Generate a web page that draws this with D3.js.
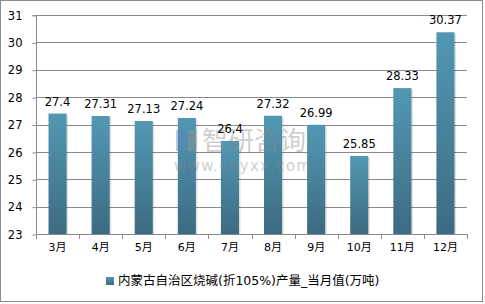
<!DOCTYPE html>
<html><head><meta charset="utf-8">
<script src="https://cdn.jsdelivr.net/npm/d3@7"></script>
<style>body{margin:0;background:#fff}svg{display:block}text{font-family:"DejaVu Sans","Noto Sans CJK SC",sans-serif}</style>
</head><body>
<script>
const categories = ["3月","4月","5月","6月","7月","8月","9月","10月","11月","12月"];
const values = [27.4,27.31,27.13,27.24,26.4,27.32,26.99,25.85,28.33,30.37];
const valueLabels = ["27.4","27.31","27.13","27.24","26.4","27.32","26.99","25.85","28.33","30.37"];
const yTicks = [23,24,25,26,27,28,29,30,31];
const seriesName = "内蒙古自治区烧碱(折105%)产量_当月值(万吨)";

(function(){
const W=485,H=304;
const svg=d3.select("body").append("svg").attr("width",W).attr("height",H);
svg.append("rect").attr("x",0.5).attr("y",0.5).attr("width",W-3).attr("height",H-3).attr("fill","#fff").attr("stroke","#8c8c8c");

const defs=svg.append("defs");
const g1=defs.append("linearGradient").attr("id","bg").attr("x1",0).attr("y1",0).attr("x2",0).attr("y2",1);
g1.append("stop").attr("offset","0%").attr("stop-color","#5298b3");
g1.append("stop").attr("offset","100%").attr("stop-color","#3c6b82");

const pl=36,pr=467,pt=15,pb=234;
const x=d3.scaleBand().domain(categories).range([pl,pr]).paddingInner(0.58).paddingOuter(0.29);
const xb=d3.scaleBand().domain(categories).range([pl,pr]);
const y=d3.scaleLinear().domain([23,31]).range([pb,pt]);

svg.append("g").selectAll("line").data(yTicks).join("line")
  .attr("x1",pl).attr("x2",pr).attr("y1",d=>Math.round(y(d))+0.5).attr("y2",d=>Math.round(y(d))+0.5)
  .attr("stroke","#8a8a8a").attr("stroke-width",1);

const ya=svg.append("g").attr("transform",`translate(${pl+0.5},0.5)`)
  .call(d3.axisLeft(y).tickValues(yTicks).tickSize(4).tickPadding(10).tickFormat(d3.format("d")));
ya.select(".domain").attr("stroke","#8a8a8a").attr("d",`M-4,${Math.round(y(31))}H0V${Math.round(y(23))}`);
ya.selectAll(".tick line").attr("stroke","#8a8a8a");
ya.selectAll(".tick text").attr("font-size",11.5).attr("fill","#000").attr("font-family","DejaVu Sans");

const bars=svg.append("g");
bars.selectAll("rect.sh").data(values).join("rect").attr("class","sh")
  .attr("x",(d,i)=>x(categories[i])+1.5).attr("y",d=>y(d)+1.5).attr("width",x.bandwidth()).attr("height",d=>pb-y(d)-1.5)
  .attr("fill","#000").attr("opacity",0.12);
bars.selectAll("rect.b").data(values).join("rect").attr("class","b")
  .attr("x",(d,i)=>x(categories[i])).attr("y",d=>y(d)).attr("width",x.bandwidth()).attr("height",d=>pb-y(d))
  .attr("fill","url(#bg)");

const xa=svg.append("g").attr("transform",`translate(0,${Math.round(pb)+0.5})`)
  .call(d3.axisBottom(xb).tickSize(0).tickPadding(9));
xa.select(".domain").attr("stroke","#8a8a8a").attr("d",`M${pl},0H${pr}`);
xa.selectAll(".tick text").attr("font-size",11).attr("fill","#000");
svg.append("g").selectAll("line").data(d3.range(categories.length+1)).join("line")
  .attr("x1",i=>Math.round(pl+i*xb.step())+0.5).attr("x2",i=>Math.round(pl+i*xb.step())+0.5)
  .attr("y1",pb).attr("y2",pb+5).attr("stroke","#8a8a8a");

const wm=svg.append("g").attr("opacity",0.4);
wm.append("rect").attr("x",176).attr("y",130).attr("width",10).attr("height",21).attr("fill","#5f86bd");
wm.append("rect").attr("x",188).attr("y",130).attr("width",9).attr("height",21).attr("fill","#999");
wm.append("text").attr("x",202).attr("y",150).attr("font-size",26).attr("fill","#888").attr("font-family","Noto Sans CJK SC").text("智研咨询");
wm.append("text").attr("x",174).attr("y",171).attr("font-size",15).attr("fill","#888").attr("letter-spacing",1.3).text("www.chyxx.com");

svg.append("g").selectAll("text").data(values).join("text")
  .attr("x",(d,i)=>x(categories[i])+x.bandwidth()/2).attr("y",d=>y(d)-8)
  .attr("text-anchor","middle").attr("font-size",11.5).attr("fill","#000").text((d,i)=>valueLabels[i]);

const lg=svg.append("g");
lg.append("rect").attr("x",106).attr("y",277).attr("width",8).attr("height",8).attr("fill","url(#bg)");
lg.append("text").attr("x",118).attr("y",285).attr("font-size",12.5).attr("fill","#000").attr("font-family","Noto Sans CJK SC").text(seriesName);
})();
</script>
</body></html>
